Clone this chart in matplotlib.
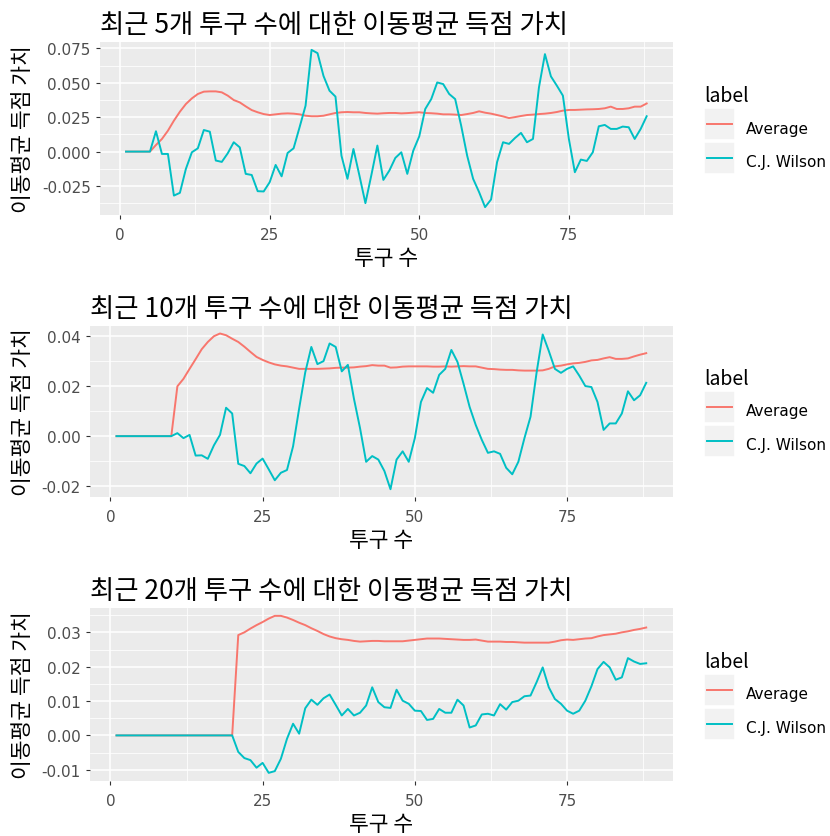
import numpy as np
import matplotlib
matplotlib.use("Agg")
import matplotlib.pyplot as plt
from matplotlib.legend_handler import HandlerBase
from matplotlib.patches import Rectangle
from matplotlib.lines import Line2D
from matplotlib.ticker import FixedLocator, FuncFormatter

KR = ["Noto Sans CJK KR", "DejaVu Sans"]
LAT = ["DejaVu Sans"]

pitches = np.arange(1, 89)

# window = 5
avg_5 = [0, 0, 0, 0, 0, 0.0048, 0.0092, 0.0152, 0.0225, 0.0290,
         0.0346, 0.0387, 0.0419, 0.0436, 0.0438, 0.0438, 0.0431, 0.0407, 0.0375, 0.0358,
         0.0329, 0.0302, 0.0286, 0.0273, 0.0266, 0.0271, 0.0276, 0.0278, 0.0276, 0.0271,
         0.0261, 0.0257, 0.0257, 0.0261, 0.0271, 0.0281, 0.0286, 0.0288, 0.0286, 0.0286,
         0.0281, 0.0278, 0.0276, 0.0279, 0.0281, 0.0281, 0.0278, 0.0280, 0.0283, 0.0286,
         0.0281, 0.0279, 0.0276, 0.0271, 0.0271, 0.0269, 0.0266, 0.0273, 0.0281, 0.0293,
         0.0283, 0.0276, 0.0266, 0.0256, 0.0244, 0.0251, 0.0259, 0.0266, 0.0269, 0.0273,
         0.0276, 0.0281, 0.0288, 0.0298, 0.0303, 0.0303, 0.0305, 0.0307, 0.0308, 0.0310,
         0.0315, 0.0327, 0.0310, 0.0310, 0.0315, 0.0327, 0.0327, 0.0350]
wilson_5 = [0, 0, 0, 0, 0, 0.0148, -0.0017, -0.0017, -0.0320, -0.0300,
            -0.0126, -0.0005, 0.0024, 0.0157, 0.0145, -0.0065, -0.0075, -0.0012, 0.0068, 0.0031,
            -0.0162, -0.0170, -0.0288, -0.0290, -0.0223, -0.0097, -0.0180, -0.0010, 0.0024, 0.0177,
            0.0334, 0.0740, 0.0716, 0.0550, 0.0443, 0.0400, -0.0030, -0.0198, 0.0019, -0.0174,
            -0.0375, -0.0170, 0.0044, -0.0206, -0.0138, -0.0046, -0.0005, -0.0162, 0.0007, 0.0111,
            0.0310, 0.0382, 0.0503, 0.0491, 0.0419, 0.0382, 0.0189, -0.0029, -0.0198, -0.0295,
            -0.0404, -0.0348, -0.0077, 0.0068, 0.0056, 0.0099, 0.0136, 0.0068, 0.0092, 0.0467,
            0.0709, 0.0547, 0.0479, 0.0407, 0.0092, -0.0150, -0.0058, -0.0068, -0.0005, 0.0184,
            0.0194, 0.0165, 0.0165, 0.0182, 0.0177, 0.0092, 0.0165, 0.0257]

# window = 10
avg_10 = [0, 0, 0, 0, 0, 0, 0, 0, 0, 0,
          0.0200, 0.0230, 0.0270, 0.0309, 0.0349, 0.0378, 0.0401, 0.0412, 0.0405, 0.0391,
          0.0378, 0.0359, 0.0338, 0.0318, 0.0306, 0.0296, 0.0288, 0.0283, 0.0280, 0.0275,
          0.0270, 0.0270, 0.0270, 0.0270, 0.0271, 0.0272, 0.0274, 0.0275, 0.0275, 0.0276,
          0.0279, 0.0281, 0.0285, 0.0283, 0.0283, 0.0275, 0.0276, 0.0279, 0.0280, 0.0280,
          0.0280, 0.0280, 0.0279, 0.0279, 0.0280, 0.0279, 0.0280, 0.0281, 0.0280, 0.0280,
          0.0275, 0.0270, 0.0269, 0.0267, 0.0266, 0.0266, 0.0264, 0.0263, 0.0263, 0.0263,
          0.0264, 0.0270, 0.0280, 0.0283, 0.0288, 0.0292, 0.0294, 0.0298, 0.0304, 0.0306,
          0.0312, 0.0317, 0.0310, 0.0310, 0.0312, 0.0320, 0.0327, 0.0333]
wilson_10 = [0, 0, 0, 0, 0, 0, 0, 0, 0, 0,
             0.0012, -0.0008, 0.0005, -0.0078, -0.0077, -0.0091, -0.0037, 0.0005, 0.0114, 0.0091,
             -0.0111, -0.0120, -0.0149, -0.0110, -0.0090, -0.0133, -0.0177, -0.0147, -0.0136, -0.0041,
             0.0111, 0.0256, 0.0358, 0.0289, 0.0301, 0.0372, 0.0358, 0.0260, 0.0286, 0.0150,
             0.0032, -0.0103, -0.0080, -0.0094, -0.0140, -0.0213, -0.0094, -0.0061, -0.0103, -0.0008,
             0.0137, 0.0193, 0.0174, 0.0246, 0.0270, 0.0346, 0.0298, 0.0210, 0.0117, 0.0045,
             -0.0015, -0.0067, -0.0061, -0.0071, -0.0127, -0.0153, -0.0103, -0.0008, 0.0078, 0.0256,
             0.0408, 0.0342, 0.0270, 0.0254, 0.0270, 0.0280, 0.0243, 0.0201, 0.0197, 0.0137,
             0.0025, 0.0051, 0.0051, 0.0091, 0.0180, 0.0144, 0.0164, 0.0214]

# window = 20
avg_20 = [0, 0, 0, 0, 0, 0, 0, 0, 0, 0,
          0, 0, 0, 0, 0, 0, 0, 0, 0, 0,
          0.0292, 0.0300, 0.0311, 0.0321, 0.0330, 0.0340, 0.0348, 0.0348, 0.0343, 0.0336,
          0.0328, 0.0321, 0.0312, 0.0304, 0.0295, 0.0288, 0.0283, 0.0280, 0.0278, 0.0275,
          0.0273, 0.0274, 0.0275, 0.0275, 0.0274, 0.0274, 0.0274, 0.0274, 0.0276, 0.0278,
          0.0280, 0.0282, 0.0282, 0.0282, 0.0281, 0.0280, 0.0279, 0.0278, 0.0278, 0.0279,
          0.0276, 0.0273, 0.0273, 0.0273, 0.0272, 0.0272, 0.0271, 0.0270, 0.0270, 0.0270,
          0.0270, 0.0270, 0.0273, 0.0277, 0.0279, 0.0278, 0.0280, 0.0282, 0.0283, 0.0288,
          0.0292, 0.0294, 0.0296, 0.0300, 0.0303, 0.0307, 0.0310, 0.0314]
wilson_20 = [0, 0, 0, 0, 0, 0, 0, 0, 0, 0,
             0, 0, 0, 0, 0, 0, 0, 0, 0, 0,
             -0.0048, -0.0066, -0.0072, -0.0094, -0.0080, -0.0109, -0.0104, -0.0068, -0.0010, 0.0034,
             0.0005, 0.0079, 0.0104, 0.0089, 0.0108, 0.0119, 0.0089, 0.0058, 0.0077, 0.0058,
             0.0066, 0.0087, 0.0140, 0.0097, 0.0082, 0.0080, 0.0133, 0.0101, 0.0092, 0.0072,
             0.0071, 0.0045, 0.0048, 0.0077, 0.0066, 0.0066, 0.0104, 0.0087, 0.0023, 0.0029,
             0.0061, 0.0063, 0.0058, 0.0091, 0.0075, 0.0097, 0.0101, 0.0114, 0.0116, 0.0155,
             0.0198, 0.0140, 0.0106, 0.0092, 0.0072, 0.0063, 0.0072, 0.0101, 0.0143, 0.0193,
             0.0214, 0.0198, 0.0162, 0.0169, 0.0225, 0.0215, 0.0208, 0.0210]

windows = [5, 10, 20]
averages = [avg_5, avg_10, avg_20]
wilsons = [wilson_5, wilson_10, wilson_20]
y_steps = [0.025, 0.02, 0.01]
y_decimals = [3, 2, 2]
series_names = ["Average", "C.J. Wilson"]
series_colors = ["#F8766D", "#00BFC4"]

W, H = 830, 837
fig = plt.figure(figsize=(W / 100, H / 100), dpi=100)

# panel boxes in pixels: left, right, top, bottom
boxes = [(100, 672.7, 43, 216), (90, 672.7, 326.7, 498), (90, 672.7, 609, 781.7)]


class KeyBox(HandlerBase):
    """Legend key drawn as a light grey tile with a short line across it."""

    def create_artists(self, legend, orig_handle, xdescent, ydescent,
                       width, height, fontsize, trans):
        top = height
        bottom = -ydescent
        bg = Rectangle((-xdescent, bottom), width, top - bottom,
                       facecolor="#F2F2F2", edgecolor="white", lw=1.2,
                       transform=trans)
        yc = (top + bottom) / 2
        ln = Line2D([-xdescent + 0.1 * width, -xdescent + 0.9 * width], [yc, yc],
                    color=orig_handle.get_color(), lw=orig_handle.get_linewidth(),
                    transform=trans)
        return [bg, ln]


def expand(lo, hi, frac=0.05):
    pad = (hi - lo) * frac
    return lo - pad, hi + pad


for i, (n, avg, wil) in enumerate(zip(windows, averages, wilsons)):
    l, r, t, b = boxes[i]
    ax = fig.add_axes([l / W, 1 - b / H, (r - l) / W, (b - t) / H])
    ax.set_facecolor("#EBEBEB")
    for s in ax.spines.values():
        s.set_visible(False)

    h_avg, = ax.plot(pitches, avg, color=series_colors[0], lw=1.4, zorder=3)
    h_wil, = ax.plot(pitches, wil, color=series_colors[1], lw=1.4, zorder=4)

    ax.set_xlim(*expand(pitches.min(), pitches.max()))
    allv = np.concatenate([avg, wil])
    y0, y1 = expand(allv.min(), allv.max())
    ax.set_ylim(y0, y1)

    step = y_steps[i]
    yt = np.arange(np.ceil(y0 / step) * step, y1 + 1e-12, step)
    yt = yt[(yt >= y0) & (yt <= y1)]
    ym = np.arange(np.floor(y0 / step) * step - step / 2, y1, step)
    ym = ym[(ym >= y0) & (ym <= y1)]
    ax.yaxis.set_major_locator(FixedLocator(yt))
    ax.yaxis.set_minor_locator(FixedLocator(ym))
    dec = y_decimals[i]
    ax.yaxis.set_major_formatter(FuncFormatter(lambda v, p, d=dec: f"{0.0 if abs(v) < 1e-12 else v:.{d}f}"))

    ax.xaxis.set_major_locator(FixedLocator([0, 25, 50, 75]))
    ax.xaxis.set_minor_locator(FixedLocator([12.5, 37.5, 62.5, 87.5]))

    ax.grid(which="major", color="white", lw=1.1, zorder=0)
    ax.grid(which="minor", color="white", lw=0.55, zorder=0)
    ax.set_axisbelow(True)

    ax.tick_params(which="major", length=3.2, width=0.8, color="#333333",
                   labelcolor="#4D4D4D", labelsize=11)
    ax.tick_params(axis="x", which="major", pad=5.5)
    ax.tick_params(axis="y", which="major", pad=3.5)
    ax.tick_params(which="minor", length=0)
    for lab in ax.get_xticklabels() + ax.get_yticklabels():
        lab.set_family(LAT)

    ax.set_title(f"최근 {n}개 투구 수에 대한 이동평균 득점 가치", loc="left",
                 fontsize=19, family=KR, color="black", pad=7)
    ax.set_xlabel("투구 수", fontsize=15.5, family=KR)
    ax.set_ylabel("이동평균 득점 가치", fontsize=15.5, family=KR)
    ax.xaxis.label.set_va("center")
    ax.yaxis.label.set_va("center")
    ax.xaxis.set_label_coords(0.5, -43 / (b - t))
    ax.yaxis.set_label_coords((23 - l) / (r - l), 0.5)

    leg = ax.legend([h_avg, h_wil], series_names, title="label",
                    handler_map={Line2D: KeyBox()},
                    loc="center left", bbox_to_anchor=(704 / W, 1 - (t + b + 2) / 2 / H),
                    bbox_transform=fig.transFigure, frameon=False,
                    handlelength=2.0, handleheight=2.1, handletextpad=0.75,
                    labelspacing=0.6, borderpad=0, borderaxespad=0,
                    alignment="left", prop={"family": LAT, "size": 11},
                    title_fontproperties={"family": KR, "size": 14})

fig.savefig("out.png", dpi=100, facecolor="white")
